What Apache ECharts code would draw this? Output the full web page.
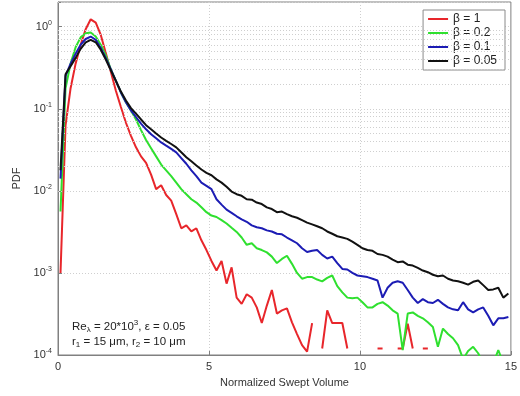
<!DOCTYPE html>
<html><head><meta charset="utf-8">
<script src="https://cdn.jsdelivr.net/npm/echarts@6/dist/echarts.min.js"></script>
<style>html,body{margin:0;padding:0;background:#fff}#c{width:520px;height:396px}</style>
</head><body><div id="c"></div>
<script>
// Bin centres (Normalized Swept Volume)
var xs = [0.083,0.25,0.417,0.583,0.75,0.917,
1.083,1.25,1.417,1.583,1.75,1.917,
2.083,2.25,2.417,2.583,2.75,2.917,
3.083,3.25,3.417,3.583,3.75,3.917,
4.083,4.25,4.417,4.583,4.75,4.917,
5.083,5.25,5.417,5.583,5.75,5.917,
6.083,6.25,6.417,6.583,6.75,6.917,
7.083,7.25,7.417,7.583,7.75,7.917,
8.083,8.25,8.417,8.583,8.75,8.917,
9.083,9.25,9.417,9.583,9.75,9.917,
10.083,10.25,10.417,10.583,10.75,10.917,
11.083,11.25,11.417,11.583,11.75,11.917,
12.083,12.25,12.417,12.583,12.75,12.917,
13.083,13.25,13.417,13.583,13.75,13.917,
14.083,14.25,14.417,14.583,14.75,14.917];

var seriesNames = ['β = 1','β = 0.2','β = 0.1','β = 0.05'];

// PDF, beta = 1 (null = empty bin)
var pdfBeta1 = [0.001,0.063,0.178,0.355,0.603,0.933,
1.23,1.12,0.794,0.479,0.282,0.166,
0.105,0.0676,0.0468,0.0339,0.0263,0.0219,
0.0158,0.0105,0.0117,0.0089,0.0076,0.0052,
0.0035,0.0038,0.0032,0.0035,0.0025,0.0019,
0.0014,0.00107,0.0014,0.00074,0.00117,0.0005,
0.00042,0.00055,0.0005,0.00038,0.000245,0.0004,
0.00062,0.00032,0.00035,0.00037,0.00025,0.00018,
0.000132,0.00011,0.000245,null,0.00012,0.00035,
0.000245,0.000245,0.000245,0.00012,null,null,
null,null,null,0.00012,0.00012,null,
null,0.00012,0.00012,0.00024,0.00012,null,
0.00012,0.00012,null,null,null,null,
null,null,null,null,null,null,
null,null,null,null,null,null];

// PDF, beta = 0.2
var pdfBeta02 = [0.0056,0.178,0.355,0.562,0.741,0.832,
0.851,0.759,0.603,0.447,0.302,0.219,
0.158,0.12,0.0955,0.0741,0.055,0.0417,
0.0331,0.0263,0.0209,0.0178,0.0151,0.0126,
0.0105,0.0091,0.0079,0.0072,0.0063,0.0055,
0.005,0.0048,0.0044,0.004,0.00355,0.00316,
0.0027,0.0022,0.0023,0.002,0.0019,0.00178,
0.00158,0.00132,0.00148,0.00162,0.00129,0.001,
0.00085,0.00089,0.00089,0.00083,0.00079,0.00087,
0.00093,0.00069,0.00058,0.0005,0.00049,0.0005,
0.00044,0.00038,0.00038,0.00042,0.00044,0.0004,
0.00035,0.00032,0.000115,0.00032,0.00033,0.0003,
0.00028,0.00025,0.00022,0.000126,0.00021,0.00018,
0.00016,0.000132,0.000089,0.000112,0.000126,0.000105,
0.000079,0.000083,0.000079,0.000115,0.000079,0.000063];

// PDF, beta = 0.1
var pdfBeta01 = [0.0141,0.251,0.355,0.468,0.603,0.708,
0.759,0.692,0.55,0.417,0.302,0.219,
0.158,0.12,0.0955,0.0794,0.0661,0.0562,
0.049,0.0437,0.0389,0.0355,0.0324,0.0295,
0.0251,0.0214,0.0178,0.0151,0.0126,0.0115,
0.0105,0.0079,0.0068,0.0059,0.0054,0.0049,
0.0045,0.0042,0.0038,0.0036,0.0035,0.0033,
0.0032,0.003,0.00295,0.0027,0.0025,0.0023,
0.002,0.0018,0.00186,0.0019,0.00166,0.0015,
0.00158,0.00132,0.00112,0.0011,0.001,0.00093,
0.00091,0.00089,0.00085,0.00081,0.0005,0.00066,
0.00076,0.00079,0.00076,0.00062,0.0005,0.00043,
0.00048,0.00044,0.00043,0.00047,0.00042,0.00038,
0.00036,0.00035,0.00044,0.00036,0.00033,0.00036,
0.00038,0.0003,0.00023,0.00028,0.00028,0.00029];

// PDF, beta = 0.05
var pdfBeta005 = [0.0178,0.263,0.331,0.417,0.537,0.646,
0.692,0.646,0.525,0.398,0.295,0.219,
0.162,0.126,0.102,0.0871,0.0741,0.0631,
0.0562,0.0501,0.0447,0.0407,0.0372,0.0339,
0.0295,0.0257,0.0229,0.0204,0.0182,0.0166,
0.0155,0.0138,0.0126,0.0112,0.0098,0.0091,
0.0087,0.0079,0.0078,0.0072,0.0069,0.0063,
0.006,0.0055,0.0056,0.0052,0.0049,0.0047,
0.0044,0.0041,0.0039,0.0037,0.0035,0.0032,
0.003,0.0028,0.0027,0.0026,0.0024,0.0022,
0.002,0.0019,0.00186,0.0017,0.00166,0.00158,
0.00145,0.00135,0.00138,0.00126,0.00123,0.00115,
0.00107,0.00102,0.00095,0.00091,0.00093,0.00085,
0.00081,0.00079,0.00076,0.00072,0.00078,0.00081,
0.00071,0.00062,0.00063,0.00066,0.0005,0.00056];

var xTicks = [0,5,10,15];
var minorGrid = [];
[1e-4,1e-3,1e-2,1e-1,1].forEach(function(d){ for(var m=2;m<=9;m++){ var v=d*m; if(v<=2) minorGrid.push(v);} });

var colors = ['#e8262b','#2fe02f','#1c1cb4','#111111'];
var allY = [pdfBeta1, pdfBeta02, pdfBeta01, pdfBeta005];

function pairs(ys){ return xs.map(function(x,i){ return [x, ys[i]==null ? '-' : ys[i]]; }); }

var series = allY.map(function(ys,i){
  return {name: seriesNames[i], type:'line', data: pairs(ys), showSymbol:false, symbol:'none',
    lineStyle:{width:2, color:colors[i]}, itemStyle:{color:colors[i]}, connectNulls:false, z: 3+i, animation:false};
});
series.unshift({type:'line', data:[], silent:true, animation:false,
  markLine:{silent:true, symbol:'none', animation:false, label:{show:false},
    lineStyle:{color:'#cfcfcf', type:[1,2], width:1},
    data: minorGrid.map(function(v){return {yAxis:v};})}});

var chart = echarts.init(document.getElementById('c'), null, {renderer:'canvas'});
chart.setOption({
  animation:false,
  backgroundColor:'#fff',
  grid:{left:58, right:4, top:2, bottom:41, show:true, borderColor:'#808080', borderWidth:1, containLabel:false},
  legend:{data:seriesNames, orient:'vertical', right:15, top:10, icon:'rect', itemWidth:20, itemHeight:2, itemGap:2,
    backgroundColor:'#fff', borderColor:'#8a8a8a', borderWidth:1, padding:[3,8,3,5], borderRadius:0,
    textStyle:{fontFamily:'Liberation Sans, Arial', fontSize:12, color:'#222'}},
  xAxis:{type:'value', min:0, max:15, interval:5, name:'Normalized Swept Volume', nameLocation:'middle', nameGap:22,
    nameTextStyle:{fontFamily:'Liberation Sans, Arial', fontSize:11, color:'#333'},
    axisLine:{lineStyle:{color:'#808080'}}, axisTick:{inside:true, length:4, lineStyle:{color:'#808080'}},
    axisLabel:{fontFamily:'Liberation Sans, Arial', fontSize:11, color:'#333', margin:6,
      formatter:function(v){ return xTicks.indexOf(v)>=0 ? String(v) : ''; }},
    splitLine:{show:true, lineStyle:{color:'#cfcfcf', type:[1,2]}}},
  yAxis:{type:'log', logBase:10, min:1e-4, max:2, name:'PDF', nameLocation:'middle', nameGap:32,
    nameTextStyle:{fontFamily:'Liberation Sans, Arial', fontSize:11, color:'#333'},
    axisLine:{lineStyle:{color:'#808080'}}, axisTick:{inside:true, length:4, lineStyle:{color:'#808080'}},
    axisLabel:{fontFamily:'Liberation Sans, Arial', fontSize:11, color:'#333', margin:6,
      formatter:function(v){ var e=Math.log10(v); if(Math.abs(e-Math.round(e))>1e-6) return ''; return '10{s|'+Math.round(e)+'}'; },
      rich:{s:{fontSize:7, verticalAlign:'top', padding:[0,0,8,0], color:'#333'}}},
    splitLine:{show:true, lineStyle:{color:'#cfcfcf', type:[1,2]}}},
  graphic:[
    {type:'text', left:72, top:319, z:10, style:{text:'Re{s|λ} = 20*10{p|3}, ε = 0.05', fontFamily:'Liberation Sans, Arial', fontSize:11.5, fill:'#222',
      rich:{s:{fontSize:8, padding:[6,0,0,0]}, p:{fontSize:8, padding:[0,0,7,0]}}}},
    {type:'text', left:72, top:336, z:10, style:{text:'r{s|1} = 15 μm, r{s|2} = 10 μm', fontFamily:'Liberation Sans, Arial', fontSize:11.5, fill:'#222',
      rich:{s:{fontSize:8, padding:[6,0,0,0]}}}}
  ],
  series: series
});
</script></body></html>
